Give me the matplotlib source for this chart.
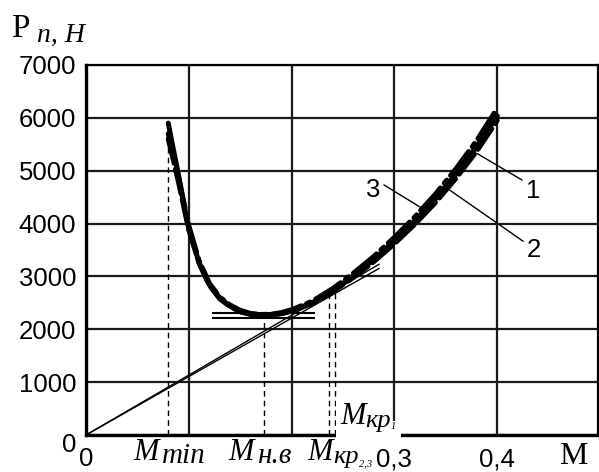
import matplotlib
matplotlib.use("Agg")
import matplotlib.pyplot as plt
import matplotlib.transforms as mtransforms
from matplotlib.patches import Rectangle

# values
M = [0.080, 0.085, 0.090, 0.095, 0.100, 0.110, 0.120, 0.130, 0.140, 0.150,
     0.160, 0.170, 0.180, 0.190, 0.200, 0.220, 0.240, 0.260, 0.280, 0.300,
     0.320, 0.340, 0.360, 0.380, 0.400]
P1 = [5900, 5400, 4920, 4380, 3900, 3260, 2840, 2590, 2440, 2340,
      2290, 2270, 2275, 2300, 2350, 2500, 2730, 3010, 3320, 3670,
      4050, 4470, 4940, 5460, 6040]
P2 = [5600, 5200, 4780, 4330, 3880, 3250, 2830, 2580, 2430, 2330,
      2280, 2265, 2270, 2295, 2340, 2490, 2710, 2980, 3280, 3620,
      3990, 4400, 4860, 5370, 5950]
P3 = [5700, 5300, 4880, 4420, 3960, 3300, 2870, 2610, 2460, 2360,
      2300, 2280, 2285, 2315, 2370, 2530, 2770, 3060, 3380, 3740,
      4130, 4560, 5040, 5570, 6180]

tangent_M = [0.0, 0.285]
tangent_Pa = [0, 3230]
tangent_Pb = [0, 3150]

min_M = [0.123, 0.223]
min_Pa = 2310
min_Pb = 2215

# characteristic points: (M, height of the dashed guide)
M_min, P_min_top = 0.080, 5800
M_nv, P_nv_top = 0.173, 2250
M_kp23, P_kp23_top = 0.236, 2700
M_kp1, P_kp1_top = 0.242, 2720

x_ticks = [0, 0.1, 0.2, 0.3, 0.4]
x_labels = ["0", "", "", "0,3", "0,4"]
y_ticks = [0, 1000, 2000, 3000, 4000, 5000, 6000, 7000]
y_labels = ["0", "1000", "2000", "3000", "4000", "5000", "6000", "7000"]

W, H = 599, 472
fig = plt.figure(figsize=(W / 100, H / 100), dpi=100)
ax = fig.add_axes([86 / W, 1 - 435 / H, (598 - 86) / W, (435 - 65) / H])
ax.set_xlim(0, 0.498)
ax.set_ylim(0, 7000)

sans = "Liberation Sans"
serif = "Liberation Serif"

ax.set_xticks(x_ticks)
ax.set_xticklabels(x_labels, fontfamily=sans, fontsize=18.5)
ax.set_yticks(y_ticks)
ax.set_yticklabels(y_labels, fontfamily=sans, fontsize=18.5)
ax.tick_params(axis="x", length=0, pad=9)
ax.tick_params(axis="y", length=0, pad=7)
ax.grid(True, color="#1a1a1a", linewidth=1.6)
ax.set_axisbelow(True)
for name, sp in ax.spines.items():
    sp.set_linewidth(2.4 if name in ("left", "bottom") else 1.6)
    sp.set_color("black")

# lower the "0" of the y axis a little, as in the original
off = mtransforms.ScaledTranslation(0, -8 / 100, fig.dpi_scale_trans)
yl0 = ax.get_yticklabels()[0]
yl0.set_transform(yl0.get_transform() + off)

# tangent lines from the origin and the horizontal at the minimum
ax.plot(tangent_M, tangent_Pa, color="black", lw=1.0, zorder=3)
ax.plot(tangent_M, tangent_Pb, color="black", lw=1.0, zorder=3)
ax.hlines([min_Pa, min_Pb], min_M[0], min_M[1], color="black", lw=1.5, zorder=3)

# dashed guides
for xm, top in [(M_min, P_min_top), (M_nv, P_nv_top),
                (M_kp23, P_kp23_top), (M_kp1, P_kp1_top)]:
    ax.vlines(xm, 0, top, color="black", lw=1.0, linestyles=(0, (4, 3)), zorder=3)

# curves 1 (solid), 2 (dashed), 3 (dash-dot)
ax.plot(M, P1, color="black", lw=3.6, solid_capstyle="round", zorder=5)
ax.plot(M, P2, color="black", lw=3.6, linestyle=(0, (5, 1.2)), dash_capstyle="round", zorder=5)
ax.plot(M, P3, color="black", lw=3.6, linestyle=(0, (6, 1.2, 0.8, 1.2)), dash_capstyle="round", zorder=5)

# curve numbers with leader lines
arrow = dict(arrowstyle="-", lw=1.0, color="black", shrinkA=1, shrinkB=0)
ax.annotate("1", xy=(M[23], P1[23] - 130), xytext=(0.435, 4620), fontfamily=sans,
            fontsize=18.5, ha="center", va="center",
            arrowprops=dict(arrow, relpos=(0, 0.85)), zorder=6)
ax.annotate("2", xy=(M[21] + 0.014, P2[21] + 230), xytext=(0.436, 3500), fontfamily=sans,
            fontsize=18.5, ha="center", va="center",
            arrowprops=dict(arrow, relpos=(0, 0.75)), zorder=6)
ax.annotate("3", xy=(0.326, 4300), xytext=(0.279, 4640), fontfamily=sans,
            fontsize=18.5, ha="center", va="center",
            arrowprops=dict(arrow, relpos=(1, 0.8)), zorder=6)


def px(x, y):
    return x / W, 1 - y / H


def ftext(x, y, s, size, style="italic", family=serif):
    fig.text(*px(x, y), s, fontsize=size, fontstyle=style, fontfamily=family,
             ha="left", va="baseline")


# white patch behind M_kp1, as in the original
fig.patches.append(Rectangle(px(336, 440), 56 / W, 42 / H, transform=fig.transFigure,
                             facecolor="white", edgecolor="none", zorder=2))
fig.patches.append(Rectangle(px(392, 440), 9 / W, 19 / H, transform=fig.transFigure,
                             facecolor="white", edgecolor="none", zorder=2))

# axis titles
ftext(11, 37, "P", 24, style="normal")
ftext(37, 42, "n, H", 20)
ftext(559, 464, "M", 23, style="normal")

# labels of the characteristic points
ftext(133, 460, "M", 22)
ftext(162, 463, "min", 21)
ftext(228, 460, "M", 22)
ftext(257, 463, "н.в", 21)
ftext(307, 460, "M", 22)
ftext(333, 463, "кр", 19)
ftext(359, 466, "2,3", 7.5)
ftext(340, 424, "M", 22)
ftext(365, 427, "кр", 19)
ftext(391, 429, "1", 7.5)

fig.savefig("out.png", dpi=100)
